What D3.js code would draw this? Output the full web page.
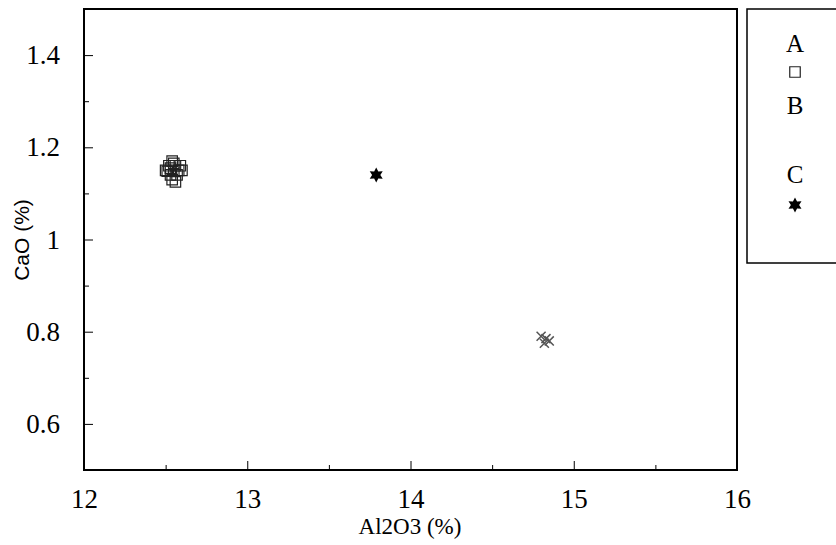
<!DOCTYPE html>
<html>
<head>
<meta charset="utf-8">
<script src="https://cdn.jsdelivr.net/npm/d3@7"></script>
<style>
  body { margin: 0; background: #fff; }
  svg { display: block; }
</style>
</head>
<body>
<div id="chart"></div>
<script>
// Data
const seriesA = [
  [12.50, 1.150], [12.52, 1.160], [12.54, 1.170], [12.56, 1.160],
  [12.58, 1.150], [12.60, 1.150], [12.53, 1.140], [12.55, 1.150],
  [12.57, 1.140], [12.54, 1.130], [12.56, 1.125], [12.51, 1.148],
  [12.59, 1.160], [12.55, 1.165], [12.53, 1.155]
];
const seriesB = [
  [14.80, 0.790], [14.83, 0.785], [14.85, 0.780], [14.82, 0.775]
];
const seriesC = [[13.79, 1.140]];

const xTicks = [12, 13, 14, 15, 16];
const yTicks = [0.6, 0.8, 1, 1.2, 1.4];
const legendLabels = ['A', 'B', 'C'];

const SERIF = '"Liberation Serif", "Times New Roman", Times, serif';
const SANS = '"Liberation Sans", Arial, Helvetica, sans-serif';

const width = 836;
const height = 545;
const margin = { top: 9, right: 99, bottom: 75, left: 84 };
const plotW = width - margin.left - margin.right;
const plotH = height - margin.top - margin.bottom;

const svg = d3.select('#chart')
  .append('svg')
  .attr('width', width)
  .attr('height', height);

const x = d3.scaleLinear().domain([12, 16]).range([0, plotW]);
const y = d3.scaleLinear().domain([0.5, 1.5]).range([plotH, 0]);

const chart = svg.append('g')
  .attr('transform', `translate(${margin.left}, ${margin.top})`);

// Six pointed star symbol
const star6 = {
  draw(context, size) {
    const r = Math.sqrt(size) * 0.75;
    const ri = r * 0.55;
    for (let i = 0; i < 12; i++) {
      const a = Math.PI / 6 * i - Math.PI / 2;
      const rr = i % 2 === 0 ? r : ri;
      if (i === 0) context.moveTo(rr * Math.cos(a), rr * Math.sin(a));
      else context.lineTo(rr * Math.cos(a), rr * Math.sin(a));
    }
    context.closePath();
  }
};

// Minor ticks
chart.append('g')
  .attr('transform', `translate(0, ${plotH})`)
  .call(d3.axisBottom(x).tickValues(d3.range(12.5, 16, 1)).tickSize(-5).tickFormat(''))
  .call(g => g.select('.domain').remove())
  .selectAll('line').attr('stroke', '#000');

chart.append('g')
  .call(d3.axisLeft(y).tickValues([0.7, 0.9, 1.1, 1.3]).tickSize(-5).tickFormat(''))
  .call(g => g.select('.domain').remove())
  .selectAll('line').attr('stroke', '#000');

// Major X axis
const xAxis = chart.append('g')
  .attr('transform', `translate(0, ${plotH})`)
  .call(d3.axisBottom(x).tickValues(xTicks).tickSize(-9).tickPadding(19).tickFormat(d3.format('d')));
xAxis.select('.domain').remove();
xAxis.selectAll('line').attr('stroke', '#000');
xAxis.selectAll('text')
  .style('font-family', SERIF)
  .style('font-size', '27px')
  .attr('fill', '#000');

// Major Y axis
const yAxis = chart.append('g')
  .call(d3.axisLeft(y).tickValues(yTicks).tickSize(-9).tickPadding(24).tickFormat(d => String(d)));
yAxis.select('.domain').remove();
yAxis.selectAll('line').attr('stroke', '#000');
yAxis.selectAll('text')
  .style('font-family', SERIF)
  .style('font-size', '27px')
  .attr('fill', '#000');

// Frame
chart.append('rect')
  .attr('x', 0)
  .attr('y', 0)
  .attr('width', plotW)
  .attr('height', plotH)
  .attr('fill', 'none')
  .attr('stroke', '#000')
  .attr('stroke-width', 2);

// Series A: open squares
chart.append('g')
  .selectAll('path')
  .data(seriesA)
  .join('path')
  .attr('transform', d => `translate(${x(d[0])}, ${y(d[1])})`)
  .attr('d', d3.symbol().type(d3.symbolSquare).size(110))
  .attr('fill', 'none')
  .attr('stroke', '#222')
  .attr('stroke-width', 1.2);

// Series B: faint grey crosses
chart.append('g')
  .selectAll('path')
  .data(seriesB)
  .join('path')
  .attr('transform', d => `translate(${x(d[0])}, ${y(d[1])})`)
  .attr('d', d3.symbol().type(d3.symbolX).size(55))
  .attr('fill', 'none')
  .attr('stroke', '#555')
  .attr('stroke-width', 1.5);

// Series C: filled six pointed star
chart.append('g')
  .selectAll('path')
  .data(seriesC)
  .join('path')
  .attr('transform', d => `translate(${x(d[0])}, ${y(d[1])})`)
  .attr('d', d3.symbol().type(star6).size(100))
  .attr('fill', '#000');

// Axis titles
svg.append('text')
  .attr('x', 410)
  .attr('y', 534)
  .attr('text-anchor', 'middle')
  .style('font-family', SERIF)
  .style('font-size', '23px')
  .attr('fill', '#000')
  .text('Al2O3 (%)');

svg.append('text')
  .attr('transform', 'translate(29, 240) rotate(-90)')
  .attr('text-anchor', 'middle')
  .style('font-family', SANS)
  .style('font-size', '21px')
  .attr('fill', '#000')
  .text('CaO (%)');

// Legend
const legend = svg.append('g');
legend.append('rect')
  .attr('x', 747)
  .attr('y', 9)
  .attr('width', 100)
  .attr('height', 254)
  .attr('fill', 'none')
  .attr('stroke', '#000')
  .attr('stroke-width', 1.5);

const legendY = [43, 105, 174];
legend.selectAll('text')
  .data(legendLabels)
  .join('text')
  .attr('x', 795)
  .attr('y', (d, i) => legendY[i])
  .attr('dy', '0.35em')
  .attr('text-anchor', 'middle')
  .style('font-family', SERIF)
  .style('font-size', '25px')
  .attr('fill', '#000')
  .text(d => d);

legend.append('path')
  .attr('transform', 'translate(795, 72)')
  .attr('d', d3.symbol().type(d3.symbolSquare).size(110))
  .attr('fill', 'none')
  .attr('stroke', '#222')
  .attr('stroke-width', 1.2);

legend.append('path')
  .attr('transform', 'translate(795, 205)')
  .attr('d', d3.symbol().type(star6).size(100))
  .attr('fill', '#000');
</script>
</body>
</html>
